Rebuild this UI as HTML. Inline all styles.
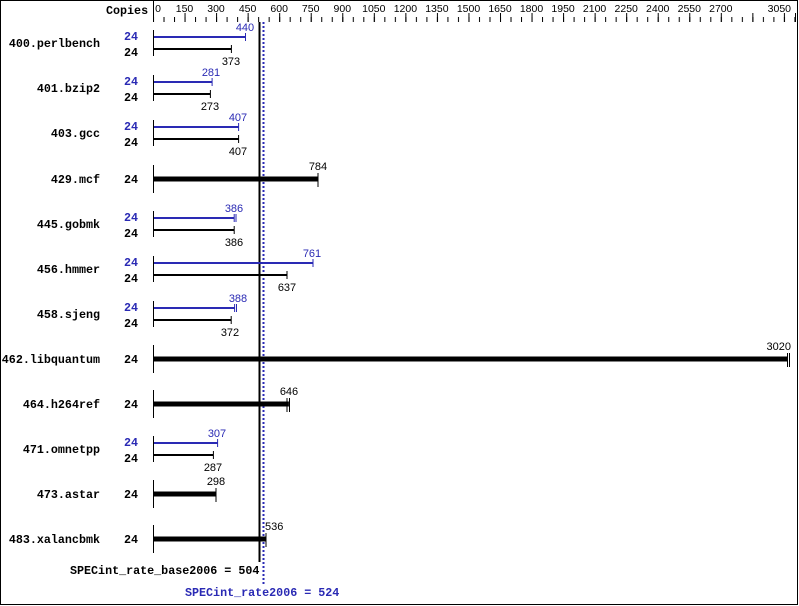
<!DOCTYPE html>
<html><head><meta charset="utf-8"><style>
html,body{margin:0;padding:0;background:#fff;}
svg{display:block;}
.n{font:bold 11.7px "Liberation Mono",monospace;fill:#000;}
.c{font:bold 11.7px "Liberation Mono",monospace;}
.v{font:11px "Liberation Sans",sans-serif;}
.t{font:10.5px "Liberation Sans",sans-serif;fill:#000;}
</style></head><body>
<svg width="799" height="606" viewBox="0 0 799 606" xmlns="http://www.w3.org/2000/svg">
<defs>
<pattern id="mi" x="153" y="0" width="10.515" height="606" patternUnits="userSpaceOnUse"><rect x="0" y="17" width="1" height="5" fill="#000"/></pattern>
<pattern id="ma" x="153" y="0" width="31.545" height="606" patternUnits="userSpaceOnUse"><rect x="0" y="13" width="1" height="9" fill="#000"/></pattern>
</defs>
<rect x="0.5" y="0.5" width="797" height="604" fill="#fff" stroke="#000"/>
<rect x="153" y="0" width="643" height="23" fill="url(#mi)"/>
<rect x="153" y="0" width="643" height="23" fill="url(#ma)"/>
<rect x="795" y="13" width="1" height="9" fill="#000"/>
<line x1="153.5" y1="0" x2="153.5" y2="22" stroke="#000"/>
<text class="n" x="106" y="14">Copies</text>
<g class="t" text-anchor="middle">
<text x="158" y="12">0</text><text x="184.5" y="12">150</text><text x="216" y="12">300</text><text x="247.6" y="12">450</text><text x="279.2" y="12">600</text><text x="310.7" y="12">750</text><text x="342.3" y="12">900</text><text x="373.8" y="12">1050</text><text x="405.4" y="12">1200</text><text x="436.9" y="12">1350</text><text x="468.5" y="12">1500</text><text x="500" y="12">1650</text><text x="531.5" y="12">1800</text><text x="563.1" y="12">1950</text><text x="594.6" y="12">2100</text><text x="626.2" y="12">2250</text><text x="657.7" y="12">2400</text><text x="689.3" y="12">2550</text><text x="720.8" y="12">2700</text>
<text x="791" y="12" text-anchor="end">3050</text>
</g>

<line x1="259.5" y1="22" x2="259.5" y2="562" stroke="#000" stroke-width="2"/>
<line x1="263.5" y1="22" x2="263.5" y2="586" stroke="#2a2ab4" stroke-width="2" stroke-dasharray="2,2"/>
<text class="n" x="70" y="574">SPECint_rate_base2006 = 504</text>
<text class="c" x="185" y="596" fill="#2a2ab4">SPECint_rate2006 = 524</text>

<g class="n" text-anchor="end">
<text x="100" y="47">400.perlbench</text>
<text x="100" y="92">401.bzip2</text>
<text x="100" y="137">403.gcc</text>
<text x="100" y="183">429.mcf</text>
<text x="100" y="228">445.gobmk</text>
<text x="100" y="273">456.hmmer</text>
<text x="100" y="318">458.sjeng</text>
<text x="100" y="363">462.libquantum</text>
<text x="100" y="408">464.h264ref</text>
<text x="100" y="453">471.omnetpp</text>
<text x="100" y="498">473.astar</text>
<text x="100" y="543">483.xalancbmk</text>
</g>

<g stroke="#000" stroke-width="1">
<line x1="153.5" y1="30" x2="153.5" y2="56"/>
<line x1="153.5" y1="75" x2="153.5" y2="101"/>
<line x1="153.5" y1="120" x2="153.5" y2="146"/>
<line x1="153.5" y1="165" x2="153.5" y2="193"/>
<line x1="153.5" y1="211" x2="153.5" y2="237"/>
<line x1="153.5" y1="256" x2="153.5" y2="282"/>
<line x1="153.5" y1="301" x2="153.5" y2="327"/>
<line x1="153.5" y1="345" x2="153.5" y2="373"/>
<line x1="153.5" y1="390" x2="153.5" y2="418"/>
<line x1="153.5" y1="436" x2="153.5" y2="462"/>
<line x1="153.5" y1="480" x2="153.5" y2="508"/>
<line x1="153.5" y1="525" x2="153.5" y2="553"/>
</g>

<g>
<text class="c" x="124" y="40" fill="#2a2ab4">24</text><text class="c" x="124" y="56" fill="#000">24</text>
<line x1="154" y1="37" x2="245.5" y2="37" stroke="#2a2ab4" stroke-width="2"/><line x1="245.5" y1="33" x2="245.5" y2="41" stroke="#2a2ab4"/>
<line x1="154" y1="49" x2="231.4" y2="49" stroke="#000" stroke-width="2"/><line x1="231.4" y1="45" x2="231.4" y2="53" stroke="#000"/>
<text class="v" x="245" y="31" fill="#2a2ab4" text-anchor="middle">440</text><text class="v" x="231" y="65" text-anchor="middle">373</text>
</g>
<g>
<text class="c" x="124" y="85" fill="#2a2ab4">24</text><text class="c" x="124" y="101" fill="#000">24</text>
<line x1="154" y1="82" x2="212.1" y2="82" stroke="#2a2ab4" stroke-width="2"/><line x1="212.1" y1="78" x2="212.1" y2="86" stroke="#2a2ab4"/>
<line x1="154" y1="94" x2="210.4" y2="94" stroke="#000" stroke-width="2"/><line x1="210.4" y1="90" x2="210.4" y2="98" stroke="#000"/>
<text class="v" x="211" y="76" fill="#2a2ab4" text-anchor="middle">281</text><text class="v" x="210" y="110" text-anchor="middle">273</text>
</g>
<g>
<text class="c" x="124" y="130" fill="#2a2ab4">24</text><text class="c" x="124" y="146" fill="#000">24</text>
<line x1="154" y1="127" x2="238.6" y2="127" stroke="#2a2ab4" stroke-width="2"/><line x1="238.6" y1="123" x2="238.6" y2="131" stroke="#2a2ab4"/>
<line x1="154" y1="139" x2="238.6" y2="139" stroke="#000" stroke-width="2"/><line x1="238.6" y1="135" x2="238.6" y2="143" stroke="#000"/>
<text class="v" x="238" y="121" fill="#2a2ab4" text-anchor="middle">407</text><text class="v" x="238" y="155" text-anchor="middle">407</text>
</g>
<g>
<text class="c" x="124" y="221" fill="#2a2ab4">24</text><text class="c" x="124" y="237" fill="#000">24</text>
<line x1="154" y1="218" x2="234.2" y2="218" stroke="#2a2ab4" stroke-width="2"/><line x1="234.2" y1="214" x2="234.2" y2="222" stroke="#2a2ab4"/><line x1="236" y1="214" x2="236" y2="222" stroke="#2a2ab4"/>
<line x1="154" y1="230" x2="234.2" y2="230" stroke="#000" stroke-width="2"/><line x1="234.2" y1="226" x2="234.2" y2="234" stroke="#000"/>
<text class="v" x="234" y="212" fill="#2a2ab4" text-anchor="middle">386</text><text class="v" x="234" y="246" text-anchor="middle">386</text>
</g>
<g>
<text class="c" x="124" y="266" fill="#2a2ab4">24</text><text class="c" x="124" y="282" fill="#000">24</text>
<line x1="154" y1="263" x2="313" y2="263" stroke="#2a2ab4" stroke-width="2"/><line x1="313" y1="259" x2="313" y2="267" stroke="#2a2ab4"/>
<line x1="154" y1="275" x2="287" y2="275" stroke="#000" stroke-width="2"/><line x1="287" y1="271" x2="287" y2="279" stroke="#000"/>
<text class="v" x="312" y="257" fill="#2a2ab4" text-anchor="middle">761</text><text class="v" x="287" y="291" text-anchor="middle">637</text>
</g>
<g>
<text class="c" x="124" y="311" fill="#2a2ab4">24</text><text class="c" x="124" y="327" fill="#000">24</text>
<line x1="154" y1="308" x2="234.6" y2="308" stroke="#2a2ab4" stroke-width="2"/><line x1="234.6" y1="304" x2="234.6" y2="312" stroke="#2a2ab4"/><line x1="236.5" y1="304" x2="236.5" y2="312" stroke="#2a2ab4"/>
<line x1="154" y1="320" x2="231.2" y2="320" stroke="#000" stroke-width="2"/><line x1="231.2" y1="316" x2="231.2" y2="324" stroke="#000"/>
<text class="v" x="238" y="302" fill="#2a2ab4" text-anchor="middle">388</text><text class="v" x="230" y="336" text-anchor="middle">372</text>
</g>
<g>
<text class="c" x="124" y="446" fill="#2a2ab4">24</text><text class="c" x="124" y="462" fill="#000">24</text>
<line x1="154" y1="443" x2="217.6" y2="443" stroke="#2a2ab4" stroke-width="2"/><line x1="217.6" y1="439" x2="217.6" y2="447" stroke="#2a2ab4"/>
<line x1="154" y1="455" x2="213.4" y2="455" stroke="#000" stroke-width="2"/><line x1="213.4" y1="451" x2="213.4" y2="459" stroke="#000"/>
<text class="v" x="217" y="437" fill="#2a2ab4" text-anchor="middle">307</text><text class="v" x="213" y="471" text-anchor="middle">287</text>
</g>

<g class="c" fill="#000">
<text x="124" y="183">24</text><text x="124" y="363">24</text><text x="124" y="408">24</text><text x="124" y="498">24</text><text x="124" y="543">24</text>
</g>
<g stroke="#000">
<line x1="154" y1="179" x2="317.9" y2="179" stroke-width="5"/><line x1="318" y1="173" x2="318" y2="187"/>
<line x1="154" y1="359" x2="788" y2="359" stroke-width="5"/><line x1="787.5" y1="353" x2="787.5" y2="367"/><line x1="789.5" y1="353" x2="789.5" y2="367"/>
<line x1="154" y1="404" x2="288.9" y2="404" stroke-width="5"/><line x1="287" y1="398" x2="287" y2="412"/><line x1="289.5" y1="398" x2="289.5" y2="412"/>
<line x1="154" y1="494" x2="215.7" y2="494" stroke-width="5"/><line x1="216" y1="488" x2="216" y2="502"/>
<line x1="154" y1="539" x2="265.7" y2="539" stroke-width="5"/><line x1="266" y1="533" x2="266" y2="547"/>
</g>
<g class="v" fill="#000">
<text x="318" y="170" text-anchor="middle">784</text>
<text x="791" y="350" text-anchor="end">3020</text>
<text x="289" y="395" text-anchor="middle">646</text>
<text x="216" y="485" text-anchor="middle">298</text>
<text x="265" y="530">536</text>
</g>
</svg>
</body></html>
